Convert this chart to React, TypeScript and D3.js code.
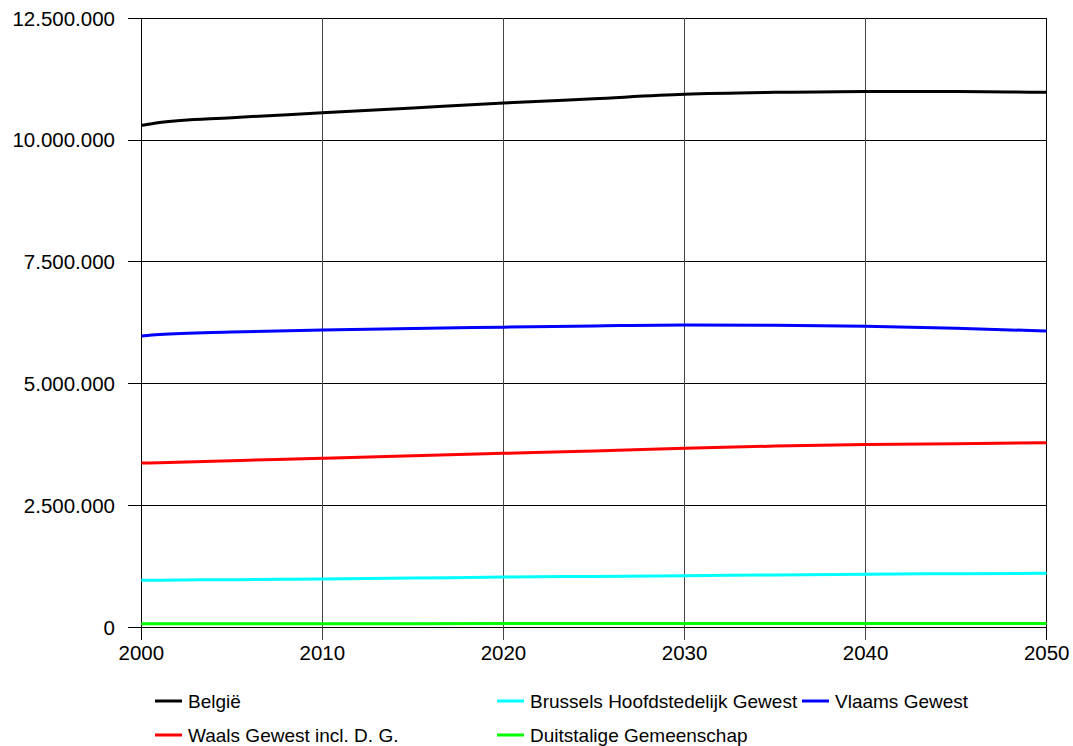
import React, { useEffect, useRef } from 'react';
import * as d3 from 'd3';

// years on the x axis
const years = [2000, 2001, 2005, 2010, 2015, 2020, 2025, 2030, 2035, 2040, 2045, 2050];

// population per region
const belgie = [10300000, 10360000, 10460000, 10560000, 10660000, 10760000, 10850000, 10940000, 10980000, 11000000, 11000000, 10980000];
const vlaams = [5980000, 6010000, 6060000, 6100000, 6135000, 6160000, 6185000, 6205000, 6200000, 6180000, 6140000, 6080000];
const waals = [3370000, 3380000, 3420000, 3470000, 3520000, 3570000, 3620000, 3675000, 3720000, 3750000, 3770000, 3790000];
const brussel = [965000, 968000, 978000, 992000, 1010000, 1030000, 1045000, 1060000, 1075000, 1090000, 1100000, 1110000];
const duits = [72000, 72000, 73000, 74000, 75000, 76000, 77000, 78000, 79000, 80000, 80000, 80000];

const xTicks = [2000, 2010, 2020, 2030, 2040, 2050];
const yTicks = [0, 2500000, 5000000, 7500000, 10000000, 12500000];

const seriesNames = ['België', 'Brussels Hoofdstedelijk Gewest', 'Vlaams Gewest', 'Waals Gewest incl. D. G.', 'Duitstalige Gemeenschap'];
const seriesValues = [belgie, brussel, vlaams, waals, duits];
const seriesColors = ['#000000', '#00ffff', '#0000ff', '#ff0000', '#00ff00'];
// order in which lines are painted
const drawOrder = [0, 2, 3, 1, 4];

const App: React.FC = () => {
  const svgRef = useRef<SVGSVGElement>(null);

  useEffect(() => {
    if (!svgRef.current) return;
    const width = 1073;
    const height = 746;
    const svg = d3.select(svgRef.current);
    svg.selectAll('*').remove();

    const left = 141.3, right = 1046.7, top = 18.3, bottom = 627.3;
    const x = d3.scaleLinear().domain([2000, 2050]).range([left, right]);
    const y = d3.scaleLinear().domain([0, 12500000]).range([bottom, top]);
    const font = '"Liberation Sans", Arial, Helvetica, sans-serif';
    const fmt = (v: number) => d3.format(',')(v).replace(/,/g, '.');

    svg.attr('width', width).attr('height', height);
    svg.append('rect').attr('width', width).attr('height', height).attr('fill', '#fff');

    const grid = svg.append('g').attr('shape-rendering', 'crispEdges');

    // horizontal gridlines + left ticks
    grid.selectAll('.hgrid')
      .data(yTicks)
      .enter()
      .append('line')
      .attr('x1', left - 13)
      .attr('x2', right)
      .attr('y1', d => y(d))
      .attr('y2', d => y(d))
      .attr('stroke', '#000')
      .attr('stroke-width', 1);

    // vertical gridlines + bottom ticks
    grid.selectAll('.vgrid')
      .data(xTicks)
      .enter()
      .append('line')
      .attr('x1', d => x(d))
      .attr('x2', d => x(d))
      .attr('y1', top)
      .attr('y2', bottom + 13)
      .attr('stroke', d => (d === 2000 || d === 2050 ? '#000' : '#444'))
      .attr('stroke-width', d => (d === 2000 ? 1.5 : 1));

    // y labels
    svg.selectAll('.ylab')
      .data(yTicks)
      .enter()
      .append('text')
      .attr('x', 115)
      .attr('y', d => y(d))
      .attr('dy', '0.36em')
      .attr('text-anchor', 'end')
      .attr('font-family', font)
      .attr('font-size', 20.5)
      .attr('fill', '#000')
      .text(d => fmt(d));

    // x labels
    svg.selectAll('.xlab')
      .data(xTicks)
      .enter()
      .append('text')
      .attr('x', d => x(d))
      .attr('y', 660)
      .attr('text-anchor', 'middle')
      .attr('font-family', font)
      .attr('font-size', 20.5)
      .attr('fill', '#000')
      .text(d => String(d));

    const line = d3.line<number>()
      .x((_, i) => x(years[i]))
      .y(d => y(d))
      .curve(d3.curveMonotoneX);

    svg.selectAll('.series')
      .data(drawOrder)
      .enter()
      .append('path')
      .attr('d', i => line(seriesValues[i]))
      .attr('fill', 'none')
      .attr('stroke', i => seriesColors[i])
      .attr('stroke-width', 3);

    // legend
    const colX = [155, 497, 802];
    const rowY = [701, 735];
    const legend = svg.selectAll('.legend')
      .data(seriesNames)
      .enter()
      .append('g')
      .attr('transform', (_, i) => `translate(${colX[i % 3]},${rowY[Math.floor(i / 3)]})`);

    legend.append('line')
      .attr('x1', 0)
      .attr('x2', 27)
      .attr('stroke', (_, i) => seriesColors[i])
      .attr('stroke-width', 3);

    legend.append('text')
      .attr('x', 33)
      .attr('dy', '0.36em')
      .attr('font-family', font)
      .attr('font-size', 19)
      .attr('fill', '#000')
      .text(d => d);
  }, []);

  return (
    <svg ref={svgRef} style={{ position: 'absolute', left: 0, top: 0, display: 'block' }} />
  );
};

export default App;
